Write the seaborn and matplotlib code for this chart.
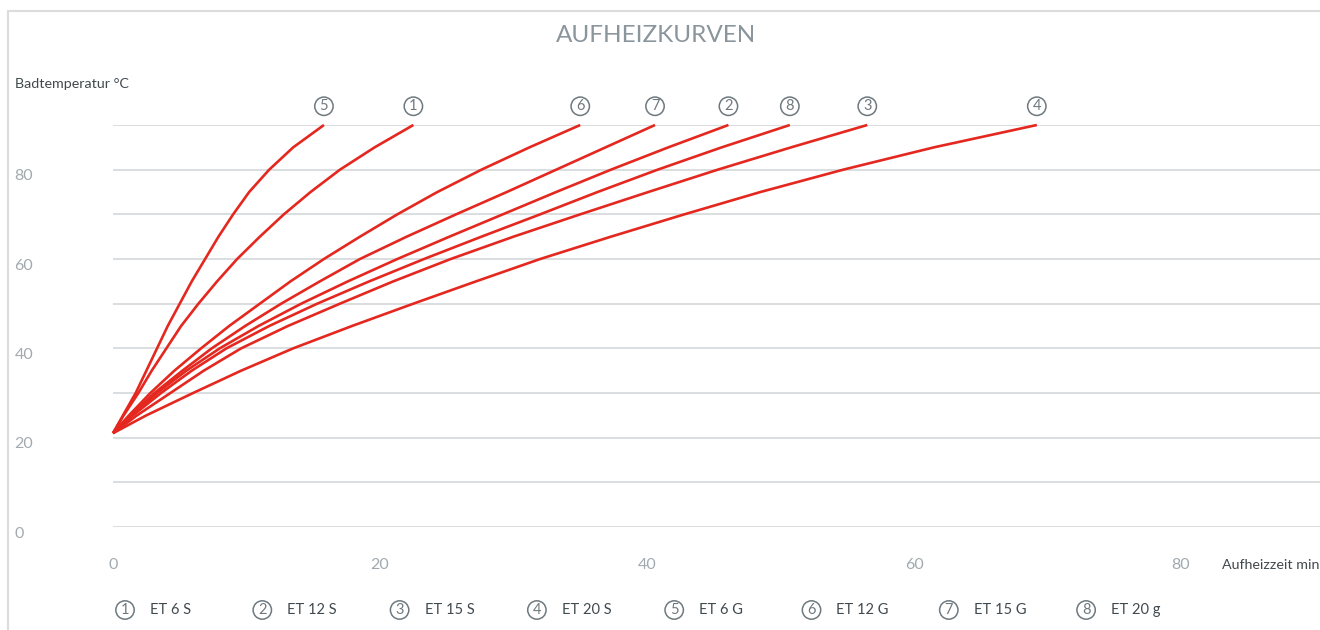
import matplotlib
matplotlib.use("Agg")
import pandas as pd
import matplotlib.pyplot as plt
import matplotlib.transforms as mtransforms
from matplotlib.lines import Line2D
import seaborn as sns

temps = [21, 25, 30, 35, 40, 45, 50, 55, 60, 65, 70, 75, 80, 85, 90]

# heating time in minutes for each model at the levels above
et6s = [0, 0.8, 1.9, 2.9, 4.0, 5.1, 6.4, 7.8, 9.3, 11.0, 12.8, 14.8, 17.0, 19.6, 22.5]
et12s = [0, 1.4, 3.3, 5.5, 8.0, 10.9, 14.1, 17.6, 21.3, 25.2, 29.2, 33.2, 37.3, 41.6, 46.1]
et15s = [0, 1.8, 4.3, 6.8, 9.6, 13.1, 17.0, 21.0, 25.3, 30.0, 35.0, 40.1, 45.3, 50.8, 56.5]
et20s = [0, 2.5, 6.0, 9.6, 13.5, 17.9, 22.5, 27.2, 32.0, 37.3, 42.8, 48.5, 54.7, 61.5, 69.2]
et6g = [0, 0.75, 1.7, 2.5, 3.3, 4.1, 5.0, 5.9, 6.9, 7.9, 9.0, 10.2, 11.7, 13.5, 15.8]
et12g = [0, 1.2, 2.8, 4.6, 6.6, 8.7, 11.0, 13.3, 15.8, 18.5, 21.3, 24.3, 27.6, 31.2, 35.0]
et15g = [0, 1.3, 3.1, 5.2, 7.4, 9.9, 12.6, 15.5, 18.5, 22.0, 25.7, 29.5, 33.2, 36.9, 40.6]
et20g = [0, 1.5, 3.6, 5.9, 8.5, 11.7, 15.3, 19.2, 23.3, 27.6, 32.0, 36.3, 40.8, 45.6, 50.7]

numbers = ["1", "2", "3", "4", "5", "6", "7", "8"]
models = ["ET 6 S", "ET 12 S", "ET 15 S", "ET 20 S", "ET 6 G", "ET 12 G", "ET 15 G", "ET 20 g"]
times = [et6s, et12s, et15s, et20s, et6g, et12g, et15g, et20g]

yticks = [0, 20, 40, 60, 80]
xticks = [0, 20, 40, 60, 80]

RED = "#e4281f"
GRID = "#d9dee1"
TICK = "#a2aaaf"
DARK = "#40494e"
CIRCLE = "#6e797f"

sns.set_theme(style="white")
plt.rcParams["font.family"] = ["Lato", "DejaVu Sans"]

# long table for seaborn
rows = []
for model, t in zip(models, times):
    for ti, te in zip(t, temps):
        rows.append({"Modell": model, "Zeit": ti, "Temp": te})
df = pd.DataFrame(rows)

W, H = 1320, 630
fig = plt.figure(figsize=(W / 100, H / 100), dpi=100)
fig.patch.set_facecolor("white")
ax = fig.add_axes([113 / W, 1 - 527 / H, 1 - 113 / W, (527 - 125) / H])

sns.lineplot(data=df, x="Zeit", y="Temp", hue="Modell", palette={m: RED for m in models},
             estimator=None, sort=False, legend=False, linewidth=1.9, ax=ax)
for line in ax.lines:
    line.set_clip_on(False)
    line.set_solid_capstyle("butt")
    line.set_solid_joinstyle("round")

ax.set_xlim(0, (W - 113) / 13.35)
ax.set_ylim(0, 90)
ax.set_xticks(xticks)
ax.set_yticks(yticks)
ax.set_yticks([10, 30, 50, 70, 90], minor=True)
ax.grid(axis="y", which="both", color=GRID, linewidth=1.4)
ax.grid(axis="x", visible=False)
ax.set_axisbelow(True)
sns.despine(ax=ax, left=True, bottom=True)
ax.set_xlabel("")
ax.set_ylabel("")
ax.tick_params(axis="y", which="both", length=0, pad=71, labelsize=11.5, labelcolor=TICK)
ax.tick_params(axis="x", length=0, pad=22, labelsize=11.5, labelcolor=TICK)
down = mtransforms.ScaledTranslation(0, -5 / 100, fig.dpi_scale_trans)
for lab in ax.get_yticklabels():
    lab.set_horizontalalignment("left")
    lab.set_transform(lab.get_transform() + down)

# circled numbers at the curve ends
for num, t in zip(numbers, times):
    ax.annotate(num, xy=(t[-1], temps[-1]), xytext=(0, 13.5), textcoords="offset points",
                ha="center", va="center", fontsize=10.5, color=CIRCLE,
                bbox=dict(boxstyle="circle,pad=0.15", fc="white", ec=CIRCLE, lw=1.1))

# titles and axis captions
fig.text(656 / W, 1 - 35 / H, "AUFHEIZKURVEN", ha="center", va="center",
         fontsize=17.5, color="#8a959c")
fig.text(15 / W, 1 - 84 / H, "Badtemperatur °C", ha="left", va="center",
         fontsize=10.3, color=DARK)
fig.text(1222 / W, 1 - 565 / H, "Aufheizzeit min", ha="left", va="center",
         fontsize=10.3, color=DARK)

# legend row at the bottom
for i, (num, model) in enumerate(zip(numbers, models)):
    cx = 125 + 137.3 * i
    fig.text(cx / W, 1 - 610 / H, num, ha="center", va="center", fontsize=10.5, color=CIRCLE,
             bbox=dict(boxstyle="circle,pad=0.15", fc="white", ec=CIRCLE, lw=1.1))
    fig.text((cx + 25) / W, 1 - 610 / H, model, ha="left", va="center",
             fontsize=10.5, color=DARK)

# thin outer frame (top and left only visible)
fig.add_artist(Line2D([8 / W, 1], [1 - 11 / H, 1 - 11 / H], color="#dcdcdc", lw=1.5))
fig.add_artist(Line2D([8 / W, 8 / W], [0, 1 - 11 / H], color="#dcdcdc", lw=1.5))

fig.savefig("out.png", dpi=100, facecolor="white")
